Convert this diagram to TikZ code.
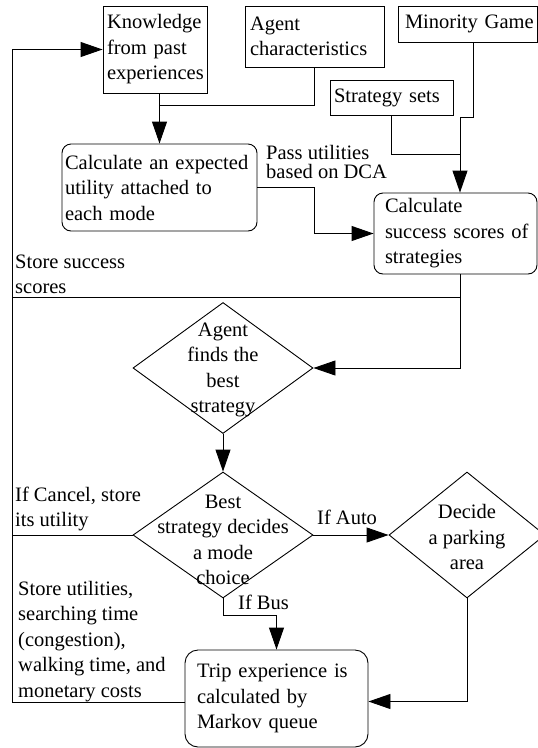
\documentclass[tikz,border=0pt]{standalone}
\usepackage{fontspec}
\setmainfont{Liberation Serif}
\usetikzlibrary{shapes.geometric,arrows.meta}
\begin{document}
\begin{tikzpicture}[x=1pt,y=-1pt,
  every node/.style={font=\fontsize{20.5}{25.5}\selectfont, text=black},
  flow/.style={line width=0.9pt, draw=black},
  arr/.style={flow, -{Triangle[length=22pt,width=15pt]}},
  sq/.style={draw, line width=0.9pt, inner ysep=0pt, align=left},
  rnd/.style={sq, rounded corners=9pt},
  dia/.style={draw, diamond, line width=0.9pt, inner sep=0pt},
  txt/.style={inner sep=0pt, align=left},
  ctr/.style={inner sep=0pt, align=center}]
\useasboundingbox (0,0) rectangle (538,748);
\clip (0,0) rectangle (538,748);

% input boxes
\node[sq, text width=96pt, inner xsep=4pt, minimum height=87pt] (know) at (155,49.5) {\mbox{Knowledge}\\from past\\\mbox{experiences}};
\node[sq, text width=129pt, inner xsep=5pt, minimum height=61pt] (agent) at (314.5,36.5) {Agent\\\mbox{characteristics}};
\node[sq, text width=125pt, inner xsep=7pt, minimum height=36pt] (mg) at (467.5,24) {\mbox{Minority Game}};
\node[sq, text width=115pt, inner xsep=4pt, minimum height=35pt] (strat) at (391.5,97.5) {\mbox{Strategy sets}};

% processing steps
\node[rnd, text width=189pt, inner xsep=3pt, minimum height=87pt] (calc) at (159.5,187.5) {\mbox{Calculate an expected}\\\mbox{utility attached to}\\each mode};
\node[rnd, text width=141pt, inner xsep=11pt, minimum height=81pt] (succ) at (455.5,233.5) {Calculate\\\mbox{success scores of}\\strategies};
\node[rnd, text width=159pt, inner xsep=12pt, minimum height=97pt, rounded corners=13pt] (trip) at (276.5,698.5) {\mbox{Trip experience is}\\\mbox{calculated by}\\\mbox{Markov queue}};

% decisions
\node[dia, minimum width=180pt, minimum height=131pt] (d1) at (223,368) {};
\node[ctr] (d1t) at (223,370) {Agent\\finds the\\best\\strategy};
\node[dia, minimum width=180pt, minimum height=126pt] (d2) at (223,535) {};
\node[ctr] (d2t) at (223,540) {Best\\strategy decides\\a mode\\choice};
\node[dia, minimum width=156pt, minimum height=126pt] (d3) at (467,535) {};
\node[ctr] (d3t) at (467,537) {Decide\\a parking\\area};

% junctions
\coordinate (rail) at (12,49.5);
\coordinate (jK) at (159,105);
\coordinate (jM) at (460,117);
\coordinate (jS) at (460,154);
\coordinate (jT) at (460,297);

% connectors
\draw[arr] ([yshift=-4pt]trip.west) -| (rail) |- (know.west);
\draw[arr] (calc.north |- know.south) -- (calc.north);
\draw[flow] (agent.south) |- (jK);
\draw[arr] ([xshift=5.5pt]mg.south) |- (jM) -- (jM |- succ.north);
\draw[flow] (strat.south) |- (jS);
\draw[arr] (calc.east) -- ++(57,0) |- (succ.west);
\draw[arr] (jM |- succ.south) |- (d1.east);
\draw[flow] (jT) -- (jT -| rail);
\draw[arr] (d1.south) -- (d2.north);
\draw[flow] (d2.west) -- (d2.west -| rail);
\draw[arr] (d2.east) -- (d3.west);
\draw[arr] (d2.south) -- ++(0,17) -| (trip.north);
\draw[arr] (d3.south) |- ([yshift=-3pt]trip.east);

% connector labels
\node[txt, anchor=west, font=\fontsize{20.5}{18.5}\selectfont] (lpass) at (266,162) {Pass utilities\\based on DCA};
\node[txt, anchor=west] (lstore) at (15,274.5) {Store success\\scores};
\node[txt, anchor=west] (lcancel) at (15,509) {If Cancel, store\\its utility};
\node[txt, anchor=west] (lauto) at (317,517) {If Auto};
\node[txt, anchor=west] (lbus) at (238,602) {If Bus};
\node[txt, anchor=west] (lutil) at (18,641.5) {Store utilities,\\searching time\\(congestion),\\walking time, and\\monetary costs};
\end{tikzpicture}
\end{document}
